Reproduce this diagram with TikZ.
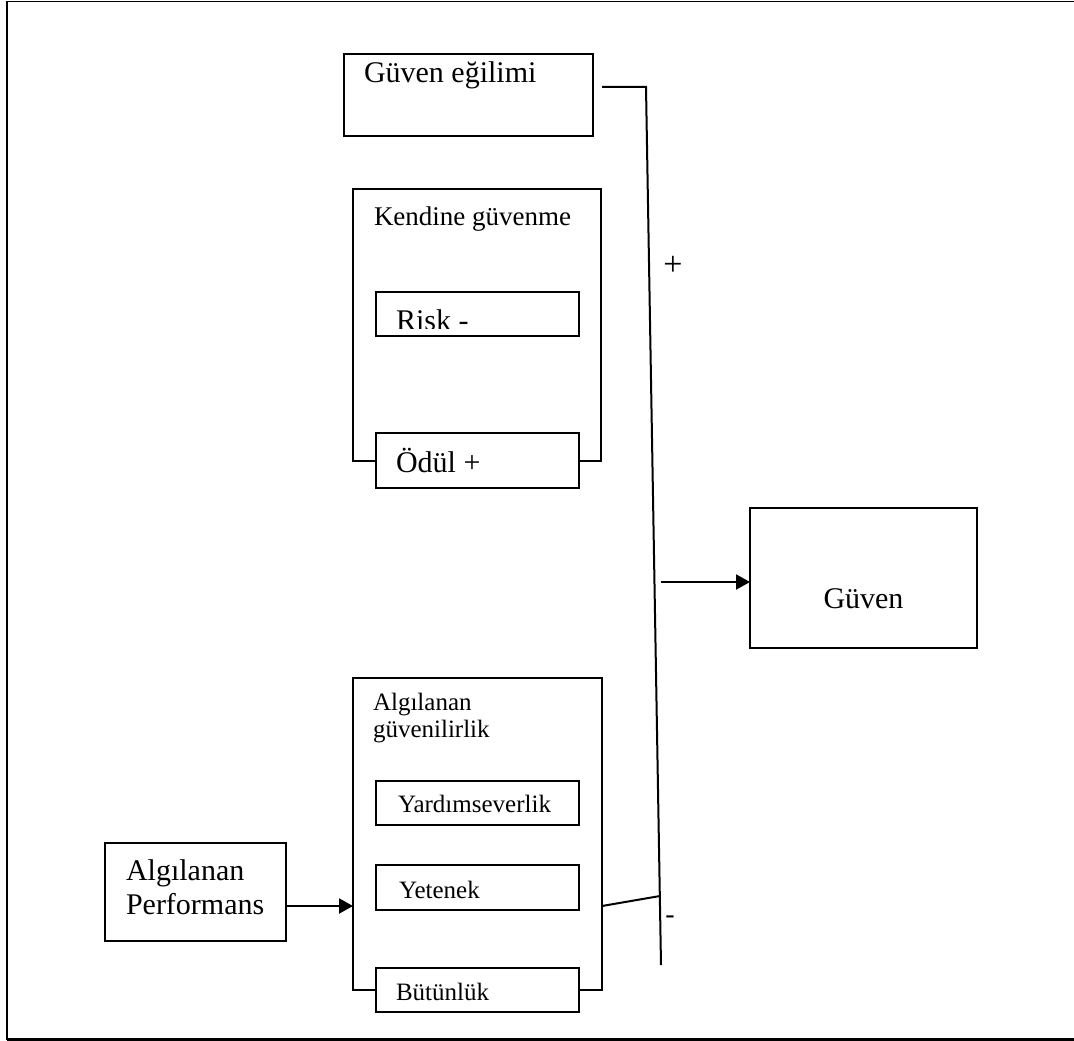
\documentclass[tikz,border=0pt]{standalone}
\usepackage{fontspec}
\setmainfont{Liberation Serif}
\usetikzlibrary{arrows.meta}
\begin{document}
\begin{tikzpicture}[x=1pt,y=-1pt,
  line width=2pt,
  box/.style={draw, line width=2pt, rectangle, inner sep=0pt, outer sep=0pt},
  lbl/.style={anchor=base west, inner sep=0pt},
  big/.style={font=\fontsize{30}{34}\selectfont},
  mid/.style={font=\fontsize{27}{31}\selectfont},
  small/.style={font=\fontsize{25}{28}\selectfont},
  arr/.style={-{Triangle[length=14pt,width=15pt]}, line width=2pt},
  wire/.style={line width=2pt}]
\useasboundingbox (0,0) rectangle (1074,1041);

% page frame (open on the right)
\draw[line width=1.4pt] (1074,1.5) -- (7,1.5) -- (7,1039.5);
\draw[line width=2.6pt] (7,1039.5) -- (1074,1039.5);

% trust propensity
\node[box, minimum width=249pt, minimum height=82pt] (ge) at (468.5,95) {};
\node[lbl, big] (getxt) at (363,83) {Güven eğilimi};

% self-confidence group
\node[box, minimum width=203pt, minimum height=44pt] (risk) at (477.5,314) {};
\begin{scope}
  \clip (376,292) rectangle (579,328);
  \node[lbl, big] (risktxt) at (395,330) {Risk -};
\end{scope}
\node[box, minimum width=203pt, minimum height=55pt] (odul) at (477.5,460.5) {};
\node[lbl, big] (odultxt) at (395,472) {Ödül +};
\coordinate (kgTL) at (353,189);
\coordinate (kgTR) at (601,189);
\draw[wire] (odul.west) -| (kgTL) -- (kgTR) |- (odul.east);
\node[lbl, mid] (kgtxt) at (373,225) {Kendine güvenme};

% trust target
\node[box, minimum width=227pt, minimum height=140pt] (guven) at (863.5,578) {};
\node[anchor=base, inner sep=0pt, big] (guventxt) at (863.5,608) {Güven};

% perceived trustworthiness group
\node[box, minimum width=203pt, minimum height=44pt] (yard) at (477.5,803) {};
\node[lbl, small] (yardtxt) at (397,812) {Yardımseverlik};
\node[box, minimum width=203pt, minimum height=45pt] (yet) at (477.5,887.5) {};
\node[lbl, small] (yettxt) at (398,898) {Yetenek};
\node[box, minimum width=203pt, minimum height=44pt] (but) at (477.5,990) {};
\node[lbl, small] (buttxt) at (395,1000) {Bütünlük};
\coordinate (agTL) at (353,678);
\coordinate (agTR) at (602,678);
\draw[wire] (but.west) -| (agTL) -- (agTR) |- (but.east);
\node[lbl, small] (agtxt1) at (372,710) {Algılanan};
\node[lbl, small] (agtxt2) at (372,737) {güvenilirlik};

% perceived performance
\node[box, minimum width=181pt, minimum height=98pt] (ap) at (195.5,892) {};
\node[lbl, big] (aptxt1) at (125,880) {Algılanan};
\node[lbl, big] (aptxt2) at (125,914) {Performans};
\coordinate (agL) at (353,906);
\draw[arr] (ap.east |- agL) -- (agL);

% combining line
\coordinate (geout) at (602,87);
\coordinate (vtop) at (646,87);
\coordinate (vbot) at (661,965);
\draw[wire] (geout) -- (vtop) -- (vbot);
\coordinate (agR) at (602,906);
\coordinate (vjoin) at (660,896);
\draw[wire] (agR) -- (vjoin);
\coordinate (ain) at (661,582);
\draw[arr] (ain) -- (ain -| guven.west);

% signs
\node[anchor=center, inner sep=0pt, font=\fontsize{34}{38}\selectfont] (plus) at (673,266) {+};
\node[anchor=center, inner sep=0pt, font=\fontsize{28}{32}\selectfont] (minus) at (670,920) {-};
\end{tikzpicture}
\end{document}
